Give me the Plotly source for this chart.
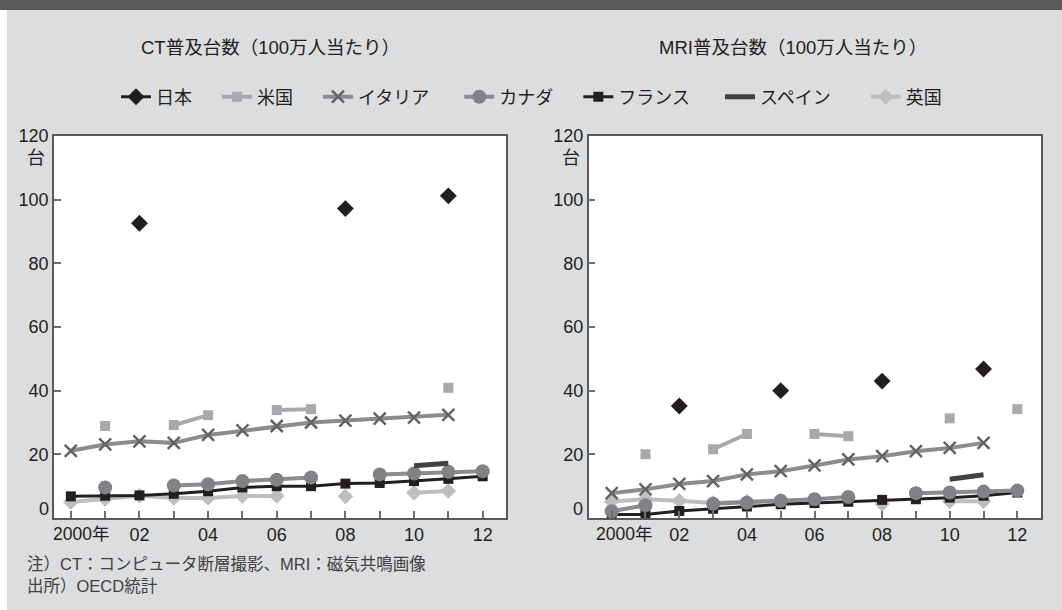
import plotly.graph_objects as go

years = list(range(2000, 2013))
tick_text = ["", "", "02", "", "04", "", "06", "", "08", "", "10", "", "12"]
first_year_label = "2000年"
y_ticks = [0, 20, 40, 60, 80, 100, 120]
y_tick_text = ["", "20", "40", "60", "80", "100", "120"]
y_zero_label = "0"

# CT units per million population
ct_japan = [None, None, 92.6, None, None, None, None, None, 97.2, None, None, 101.2, None]
ct_us = [None, 28.9, None, 29.2, 32.3, None, 33.9, 34.2, None, None, None, 40.9, None]
ct_italy = [21.1, 23.1, 24.1, 23.6, 26.1, 27.5, 28.9, 30.0, 30.6, 31.2, 31.5, 32.4, None]
ct_canada = [None, 9.6, None, 10.2, 10.6, 11.6, 12.0, 12.7, None, 13.7, 14.0, 14.5, 14.7]
ct_france = [6.8, 7.0, 7.1, 7.6, 8.4, 9.6, 10.0, 10.0, 10.8, 11.0, 11.6, 12.3, 13.1]
ct_spain = [None, None, None, None, None, None, None, None, None, None, 16.4, 17.2, None]
ct_uk = [5.0, 6.0, 7.0, 6.3, 6.3, 6.9, 6.9, None, 6.8, None, 7.9, 8.5, None]

# MRI units per million population
mri_japan = [None, None, 35.2, None, None, 40.0, None, None, 43.0, None, None, 46.8, None]
mri_us = [None, 20.0, None, 21.6, 26.4, None, 26.4, 25.7, None, None, 31.3, None, 34.2]
mri_italy = [7.8, 9.0, 10.7, 11.6, 13.7, 14.7, 16.5, 18.4, 19.4, 21.0, 22.0, 23.6, None]
mri_canada = [2.1, 4.0, None, 4.5, 4.8, 5.4, 5.9, 6.6, None, 7.8, 8.0, 8.3, 8.6]
mri_france = [1.1, 1.1, 2.2, 2.9, 3.6, 4.3, 4.7, 5.1, 5.7, 5.9, 6.4, 7.0, 8.0]
mri_spain = [None, None, None, None, None, None, None, None, None, None, 12.2, 13.6, None]
mri_uk = [5.2, 5.9, 5.4, 4.7, 5.2, 5.5, 5.3, None, 4.4, None, 5.3, 5.3, None]

FONT = "Liberation Sans, Noto Sans CJK JP, sans-serif"
TEXT = "#231f20"
NBSP = "\u00a0"

# name, legend rank, trailing legend padding, line colour, line width, marker spec, CT, MRI
series = [
    ("英国", 7, 0, "#bcbec0", 4, dict(symbol="diamond", size=12, color="#bcbec0"), ct_uk, mri_uk),
    ("フランス", 5, 5, "#231f20", 3, dict(symbol="square", size=10, color="#231f20"), ct_france, mri_france),
    ("カナダ", 4, 4, "#8a8c8f", 4, dict(symbol="circle", size=14, color="#808285"), ct_canada, mri_canada),
    ("スペイン", 6, 6, "#414042", 5, None, ct_spain, mri_spain),
    ("イタリア", 3, 5, "#8a8c8f", 4, dict(symbol="x-thin", size=12, color="#636466",
                                         line=dict(width=2.5, color="#636466")), ct_italy, mri_italy),
    ("米国", 2, 4, "#a7a9ac", 4, dict(symbol="square", size=10, color="#a7a9ac"), ct_us, mri_us),
    ("日本", 1, 4, "#231f20", 3, dict(symbol="diamond", size=13, color="#231f20"), ct_japan, mri_japan),
]

fig = go.Figure()
for name, rank, pad, color, width, marker, ct, mri in series:
    label = name + NBSP * pad
    for vals, xa, ya, show in ((ct, "x", "y", True), (mri, "x2", "y2", False)):
        kw = dict(mode="lines", line=dict(color=color, width=width))
        if marker is not None:
            kw = dict(mode="lines+markers", line=dict(color=color, width=width), marker=marker)
        fig.add_trace(go.Scatter(
            x=years, y=vals, name=label, legendgroup=name, legendrank=rank, showlegend=show,
            connectgaps=False, xaxis=xa, yaxis=ya, **kw))

W, H = 1062, 610
def px_x(p):
    return p / W
def px_y(p):
    return 1 - p / H

axis_common = dict(
    ticks="inside", ticklen=7, tickwidth=1.5, tickcolor="#6d6e71",
    showline=True, linecolor="#58595b", linewidth=1.5, mirror=True,
    showgrid=False, zeroline=False, automargin=False,
    tickfont=dict(family=FONT, size=18, color=TEXT),
)

def note(text, x, y, size, anchor="center", color=TEXT):
    return dict(text=text, x=px_x(x), y=px_y(y), xref="paper", yref="paper",
                showarrow=False, xanchor=anchor, yanchor="middle",
                font=dict(family=FONT, size=size, color=color))

fig.update_layout(
    width=W, height=H,
    margin=dict(l=0, r=0, t=0, b=0, pad=0, autoexpand=False),
    paper_bgcolor="#dcdddf",
    plot_bgcolor="#ffffff",
    font=dict(family=FONT, color=TEXT),
    xaxis=dict(domain=[px_x(54), px_x(506)], range=[1999.51, 2012.68],
               tickvals=years, ticktext=tick_text, anchor="y", **axis_common),
    yaxis=dict(domain=[px_y(518), px_y(136)], range=[0, 120],
               tickvals=y_ticks, ticktext=y_tick_text, anchor="x", **axis_common),
    xaxis2=dict(domain=[px_x(588.7), px_x(1041)], range=[1999.32, 2012.70],
                tickvals=years, ticktext=tick_text, anchor="y2", **axis_common),
    yaxis2=dict(domain=[px_y(518), px_y(136)], range=[0, 120],
                tickvals=y_ticks, ticktext=y_tick_text, anchor="x2", **axis_common),
    legend=dict(orientation="h", x=px_x(116), xanchor="left", y=px_y(97), yanchor="middle",
                font=dict(family=FONT, size=18, color=TEXT), bgcolor="rgba(0,0,0,0)",
                traceorder="normal"),
    shapes=[
        dict(type="rect", xref="paper", yref="paper", x0=0, x1=1, y0=px_y(10), y1=1,
             fillcolor="#58595b", line=dict(width=0), layer="below"),
        dict(type="rect", xref="paper", yref="paper", x0=0, x1=px_x(7), y0=0, y1=px_y(10),
             fillcolor="#ffffff", line=dict(width=0), layer="below"),
    ],
    annotations=[
        note("CT普及台数（100万人当たり）", 270, 47, 18.5),
        note("MRI普及台数（100万人当たり）", 793, 47, 18.5),
        note("台", 36, 158, 18),
        note("台", 571, 158, 18),
        note(y_zero_label, 51, 509, 18, "right"),
        note(y_zero_label, 585, 509, 18, "right"),
        note(first_year_label, 51, 534, 17.5, "left"),
        note(first_year_label, 594, 534, 17.5, "left"),
        note("注）CT：コンピュータ断層撮影、MRI：磁気共鳴画像", 25, 564, 16.5, "left", "#414042"),
        note("出所）OECD統計", 25, 586, 16.5, "left", "#414042"),
    ],
)

fig.write_html("out.html", post_script="document.body.style.margin='0';")
